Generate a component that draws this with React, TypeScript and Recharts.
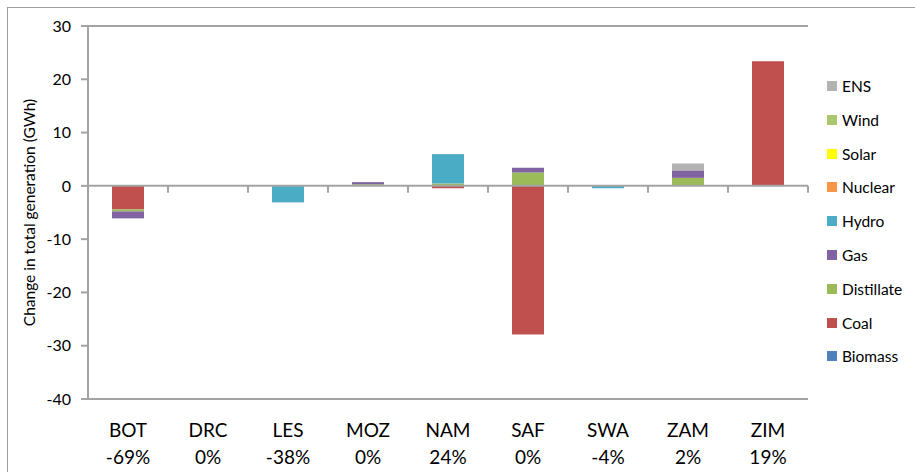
import React from 'react';
import { BarChart, Bar, XAxis, YAxis, ReferenceLine, Legend } from 'recharts';

const categories = ['BOT', 'DRC', 'LES', 'MOZ', 'NAM', 'SAF', 'SWA', 'ZAM', 'ZIM'];
const changeLabels = ['-69%', '0%', '-38%', '0%', '24%', '0%', '-4%', '2%', '19%'];

// GWh change per technology, one value per country
const biomass = [0, 0, 0, 0, 0, 0, 0, 0, 0];
const coal = [-4.4, 0, 0, 0, -0.45, -27.9, 0, 0, 23.4];
const distillate = [-0.4, 0, 0, 0.3, 0.45, 2.5, 0, 1.5, 0];
const gas = [-1.3, 0, 0, 0.4, 0, 0.9, 0, 1.4, 0];
const hydro = [0, 0, -3.1, 0, 5.5, 0, -0.45, 0, 0];
const nuclear = [0, 0, 0, 0, 0, 0, 0, 0, 0];
const solar = [0, 0, 0, 0, 0, 0, 0, 0, 0];
const wind = [0, 0, 0, 0, 0, 0, 0, 0, 0];
const ens = [0, 0, 0, 0, 0, 0, 0, 1.3, 0];

const yTicks = [-40, -30, -20, -10, 0, 10, 20, 30];

const series = [
  { key: 'Biomass', values: biomass, color: '#4f81bd' },
  { key: 'Coal', values: coal, color: '#c0504d' },
  { key: 'Distillate', values: distillate, color: '#9bbb59' },
  { key: 'Gas', values: gas, color: '#8064a2' },
  { key: 'Hydro', values: hydro, color: '#4bacc6' },
  { key: 'Nuclear', values: nuclear, color: '#f79646' },
  { key: 'Solar', values: solar, color: '#ffff00' },
  { key: 'Wind', values: wind, color: '#abc86e' },
  { key: 'ENS', values: ens, color: '#b3b3b3' },
];

const data = categories.map((name, i) => {
  const row: Record<string, number | string> = { name };
  series.forEach((s) => {
    row[s.key] = s.values[i];
  });
  return row;
});

const FONT = 'Lato, "Open Sans", sans-serif';
const AXIS = '#a3a3a3';

const XTick = (props: any) => {
  const { x, y, payload, index } = props;
  return (
    <text x={x} y={y} textAnchor="middle" fill="#000" fontSize={19} fontFamily={FONT}>
      <tspan x={x} dy={38}>{payload.value}</tspan>
      <tspan x={x} dy={27}>{changeLabels[index]}</tspan>
    </text>
  );
};

// zero line with the category tick marks hanging below it
const ZeroLine = (props: any) => {
  const { x1, y1, x2 } = props;
  const n = categories.length;
  const step = (x2 - x1) / n;
  return (
    <g>
      <line x1={x1} y1={y1} x2={x2} y2={y1} stroke={AXIS} strokeWidth={2} />
      {categories.map((c, k) => (
        <line
          key={c}
          x1={x1 + step * (k + 1)}
          x2={x1 + step * (k + 1)}
          y1={y1}
          y2={y1 + 7}
          stroke={AXIS}
          strokeWidth={2}
        />
      ))}
    </g>
  );
};

const LegendBox = () => (
  <div style={{ fontFamily: FONT, fontSize: 15.5, color: '#000' }}>
    {[...series].reverse().map((s) => (
      <div key={s.key} style={{ height: 33.8, display: 'flex', alignItems: 'flex-start' }}>
        <span
          style={{
            display: 'inline-block',
            width: 10,
            height: 10,
            background: s.color,
            marginTop: 4,
            marginRight: 5,
          }}
        />
        <span style={{ lineHeight: '18px' }}>{s.key}</span>
      </div>
    ))}
  </div>
);

export default function App() {
  return (
    <div style={{ position: 'absolute', left: 0, top: 0, width: 915, height: 472, overflow: 'hidden', background: '#fff' }}>
      <div
        style={{
          position: 'absolute',
          left: 7,
          top: 7,
          width: 1000,
          height: 1000,
          border: '1px solid #9d9d9d',
        }}
      />
      <div style={{ position: 'absolute', left: 0, top: 0 }}>
        <BarChart
          width={915}
          height={472}
          data={data}
          stackOffset="sign"
          barSize={32}
          margin={{ top: 26, right: 107, bottom: 0, left: 0 }}
        >
          <XAxis
            dataKey="name"
            height={73}
            axisLine={{ stroke: AXIS, strokeWidth: 2 }}
            tickLine={false}
            tickSize={0}
            tickMargin={0}
            tick={<XTick />}
            interval={0}
          />
          <YAxis
            domain={[-40, 30]}
            ticks={yTicks}
            width={88}
            axisLine={{ stroke: AXIS, strokeWidth: 2 }}
            tickLine={{ stroke: AXIS, strokeWidth: 2 }}
            tickSize={7}
            tickMargin={10}
            tick={{ fill: '#000', fontSize: 16, fontFamily: FONT }}
            label={{
              value: 'Change in total generation (GWh)',
              angle: -90,
              position: 'insideLeft',
              offset: 29,
              style: { textAnchor: 'middle', fontSize: 15.5, fontFamily: FONT, fill: '#000' },
            }}
          />
          <ReferenceLine y={30} stroke={AXIS} strokeWidth={2} />
          {series.map((s) => (
            <Bar key={s.key} dataKey={s.key} stackId="a" fill={s.color} isAnimationActive={false} />
          ))}
          <ReferenceLine y={0} shape={<ZeroLine />} />
          <Legend
            layout="vertical"
            align="center"
            verticalAlign="middle"
            content={<LegendBox />}
            wrapperStyle={{ left: 827, top: 77, width: 90 }}
          />
        </BarChart>
      </div>
    </div>
  );
}
